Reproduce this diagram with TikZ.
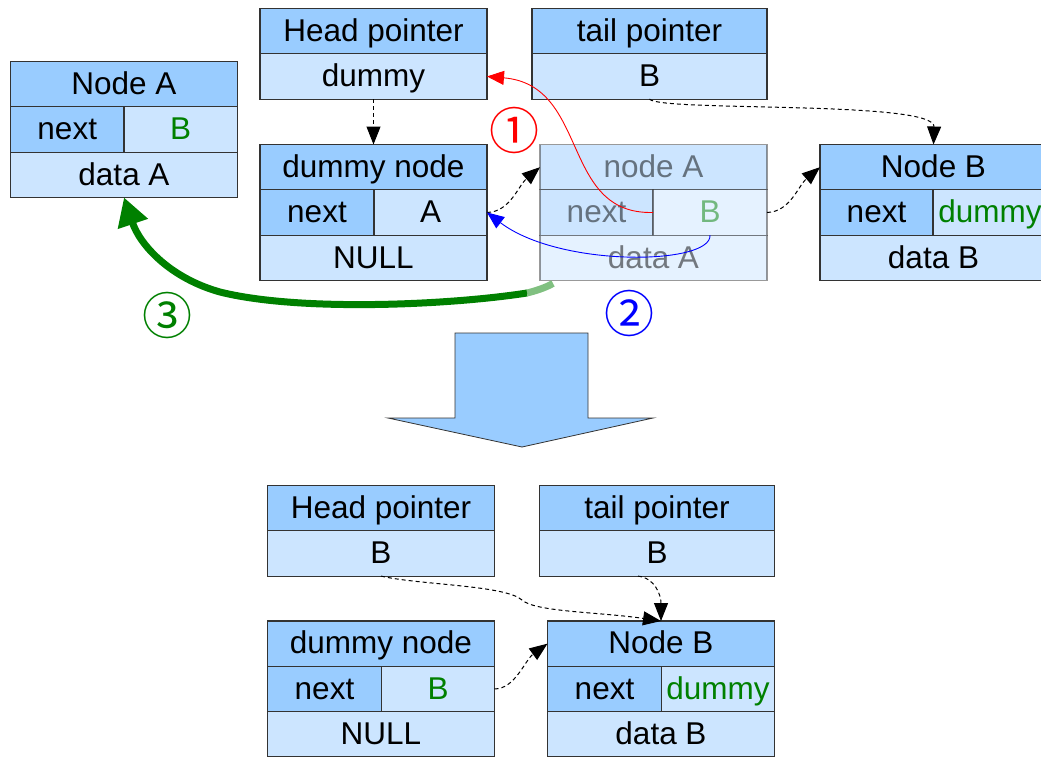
\documentclass[tikz,border=0pt]{standalone}
\usepackage{fontspec}
\setmainfont{Liberation Sans}
\newfontfamily\circfont{Noto Sans CJK SC}
\usetikzlibrary{arrows.meta,calc}
\definecolor{hdrblue}{RGB}{153,204,255}
\definecolor{valblue}{RGB}{204,229,255}
\definecolor{edge}{RGB}{51,51,51}
\definecolor{okgreen}{RGB}{0,128,0}
\definecolor{fadegreen}{RGB}{128,192,128}

% pointer box: prefix, x, y, width, title, value
\newcommand\ptrbox[6]{%
  \node[hdr, minimum width=#4pt, anchor=north west] (#1T) at (#2,#3) {#5};
  \node[val, minimum width=#4pt, anchor=north west] (#1V) at (#1T.south west) {#6};
}
% list node: prefix, x, y, width, next width, title, next label, next value, data
\newcommand\listcell[9]{%
  \node[hdr, minimum width=#4pt, anchor=north west] (#1T) at (#2,#3) {#6};
  \node[hdr, minimum width=#5pt, anchor=north west] (#1N) at (#1T.south west) {#7};
  \node[val, minimum width={#4pt-#5pt}, anchor=north east] (#1V) at (#1T.south east) {#8};
  \node[val, minimum width=#4pt, anchor=north west] (#1D) at (#1N.south west) {#9};
}

\begin{document}
\begin{tikzpicture}[x=1pt, y=-1pt,
  cell/.style={draw=edge, line width=1.2pt, minimum height=45.3pt, inner sep=0pt,
    outer sep=0pt, text height=22pt, text depth=1.5pt, font=\fontsize{31.5}{36}\selectfont},
  hdr/.style={cell, fill=hdrblue},
  val/.style={cell, fill=valblue},
  ptr/.style={line width=1pt, dash pattern=on 4pt off 3pt, -{Triangle[length=18pt,width=14pt]}},
  redptr/.style={red, line width=0.9pt, -{Triangle[length=17pt,width=14pt]}},
  blueptr/.style={blue, line width=0.9pt, -{Triangle[length=17pt,width=14pt]}},
  moveptr/.style={okgreen, line width=7pt, -{Triangle[length=28pt,width=30pt]}},
  stepnum/.style={inner sep=0pt, font=\circfont\fontsize{50}{54}\selectfont}]
\useasboundingbox (0,0) rectangle (1041,756);
\clip (0,0) rectangle (1041,756);

% ---------- before dequeue ----------
\ptrbox{hp1}{260}{8.5}{227}{Head pointer}{dummy}
\ptrbox{tp1}{532}{8.5}{235}{tail pointer}{B}
\listcell{na}{10.5}{61.5}{227}{113.5}{Node A}{next}{\textcolor{okgreen}{B}}{data A}
\listcell{dn1}{260}{144.5}{227}{114}{dummy node}{next}{A}{NULL}
\listcell{nb1}{820}{144.5}{227}{113}{Node B}{next}{\textcolor{okgreen}{dummy}}{data B}
\begin{scope}[opacity=0.5]
  \listcell{fa}{540}{144.5}{227}{113}{node A}{next}{\textcolor{okgreen}{B}}{data A}
\end{scope}

\draw[ptr] (hp1V.south) -- (dn1T.north);
\draw[ptr] (tp1V.south) .. controls (660,112) and (935,100) .. (nb1T.north);
\draw[ptr] (dn1V.east) .. controls (510,212) and (518,186) .. (faT.west);
\draw[ptr] (faV.east) .. controls (790,212) and (798,186) .. (nb1T.west);

% step 1: head moves to the old dummy's successor
\draw[redptr] (faV.west) .. controls (560,215) and (590,85) .. (hp1V.east);
% step 2: the dummy takes over node A
\draw[blueptr] (faV.south) .. controls (712,265) and (560,268) .. (dn1V.east);
% step 3: node A is handed out
\coordinate (g0) at ($(faD.south west)+(13,3)$);
\coordinate (g1) at (527,293);
\draw[fadegreen, line width=7pt] (g0) .. controls (545,288) and (535,291) .. (g1);
\draw[moveptr] (g1) .. controls (450,305) and (300,312) .. (220,292)
  .. controls (170,278) and (140,245) .. (naD.south);

\node[stepnum, text=red] (s1) at (514,130) {①};
\node[stepnum, text=blue] (s2) at (629,313) {②};
\node[stepnum, text=okgreen] (s3) at (167,315) {③};

% ---------- transition ----------
\draw[fill=hdrblue, draw=edge, line width=0.8pt]
  (455,333) -- (588,333) -- (588,418) -- (653,418) -- (522,447)
  -- (388,418) -- (455,418) -- cycle;

% ---------- after dequeue ----------
\ptrbox{hp2}{267.5}{485.5}{227}{Head pointer}{B}
\ptrbox{tp2}{539.5}{485.5}{235}{tail pointer}{B}
\listcell{dn2}{267.5}{621}{227}{114}{dummy node}{next}{\textcolor{okgreen}{B}}{NULL}
\listcell{nb2}{547.5}{621}{227}{114}{Node B}{next}{\textcolor{okgreen}{dummy}}{data B}

\draw[ptr] (hp2V.south) .. controls (420,585) and (505,585) .. (522,600)
  .. controls (535,612) and (600,612) .. (nb2T.north);
\draw[ptr] ($(tp2V.south)+(-19,0)$) .. controls (655,578) and (661,595) .. (nb2T.north);
\draw[ptr] (dn2V.east) .. controls (515,689) and (525,660) .. (nb2T.west);
\end{tikzpicture}
\end{document}
